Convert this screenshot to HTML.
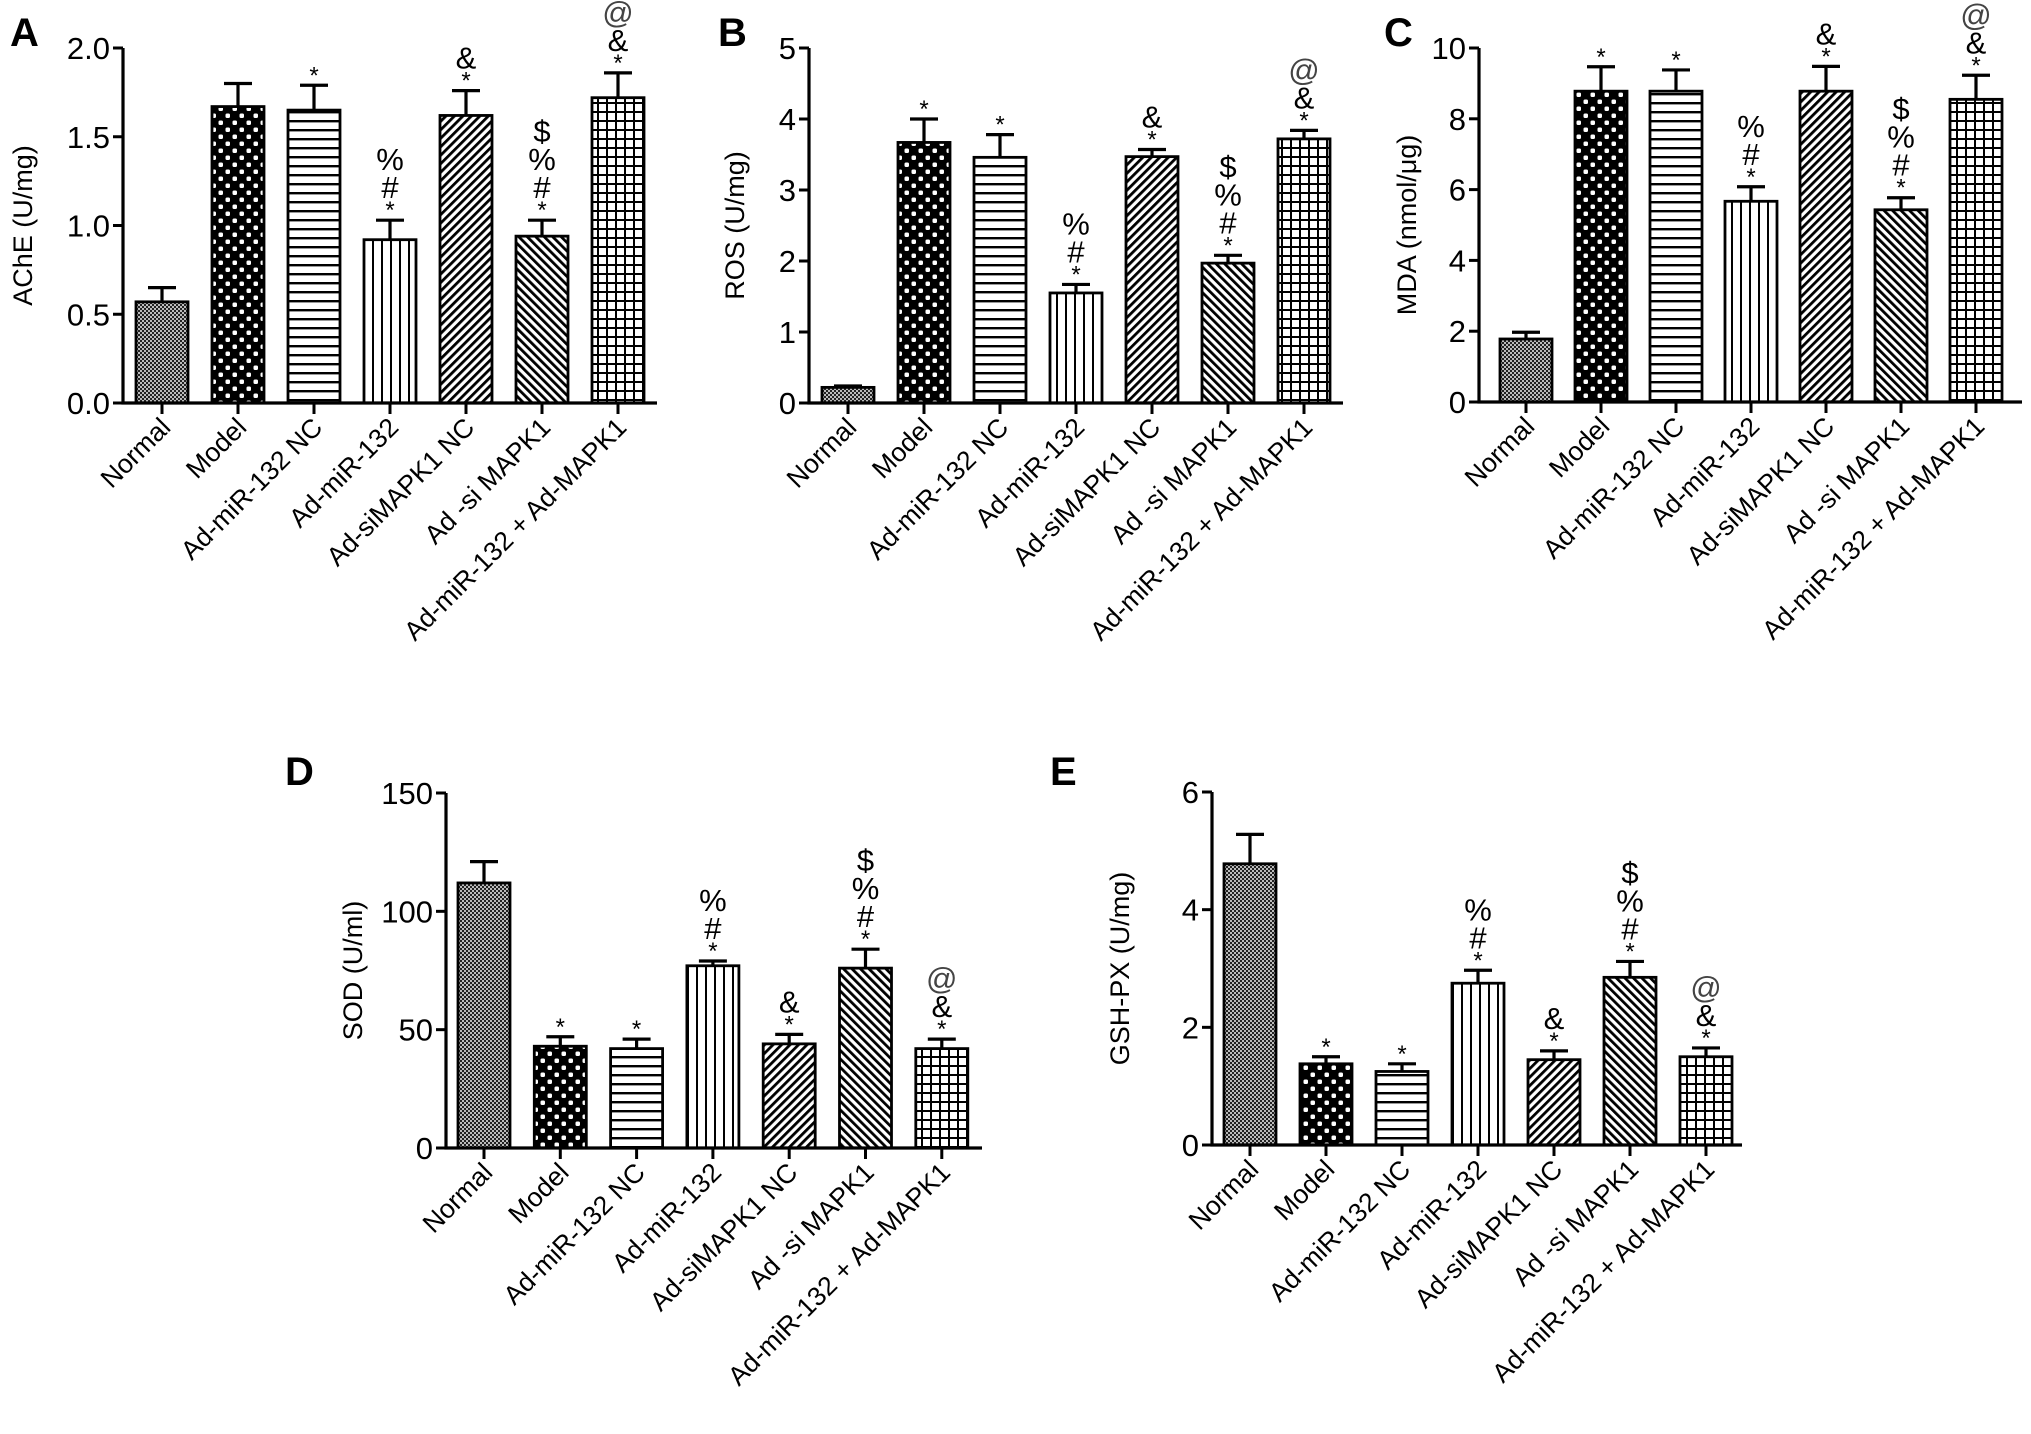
<!DOCTYPE html>
<html><head><meta charset="utf-8"><style>
html,body{margin:0;padding:0;background:#fff;}
svg{display:block;font-family:"Liberation Sans",Arial,sans-serif;}
</style></head><body>
<svg id="fig" width="2031" height="1434" viewBox="0 0 2031 1434" xmlns="http://www.w3.org/2000/svg">
<defs>
<pattern id="p0" width="4" height="4" patternUnits="userSpaceOnUse"><rect width="4" height="4" fill="#bbb"/><rect width="2" height="2" fill="#222"/><rect x="2" y="2" width="2" height="2" fill="#222"/></pattern>
<pattern id="p1" width="14" height="14" patternUnits="userSpaceOnUse"><rect width="14" height="14" fill="#000"/><rect x="1.5" y="1.5" width="4.5" height="4.5" rx="1.5" fill="#fff"/><rect x="8.5" y="8.5" width="4.5" height="4.5" rx="1.5" fill="#fff"/></pattern>
<pattern id="p2" width="10" height="9" patternUnits="userSpaceOnUse"><rect width="10" height="9" fill="#fff"/><rect y="3" width="10" height="2.4" fill="#000"/></pattern>
<pattern id="p3" width="9" height="10" patternUnits="userSpaceOnUse"><rect width="9" height="10" fill="#fff"/><rect x="3" width="2" height="10" fill="#000"/></pattern>
<pattern id="p4" width="6" height="6" patternUnits="userSpaceOnUse" patternTransform="rotate(45)"><rect width="6" height="6" fill="#fff"/><rect width="2.8" height="6" fill="#000"/></pattern>
<pattern id="p5" width="6" height="6" patternUnits="userSpaceOnUse" patternTransform="rotate(-45)"><rect width="6" height="6" fill="#fff"/><rect width="2.8" height="6" fill="#000"/></pattern>
<pattern id="p6" width="9" height="9" patternUnits="userSpaceOnUse"><rect width="9" height="9" fill="#fff"/><rect x="3" width="2" height="9" fill="#000"/><rect y="3" width="9" height="2" fill="#000"/></pattern>
</defs>
</svg>
<script>
const categories = ["Normal","Model","Ad-miR-132 NC","Ad-miR-132","Ad-siMAPK1 NC","Ad -si MAPK1","Ad-miR-132 + Ad-MAPK1"];
const aValues = [0.57,1.67,1.65,0.92,1.62,0.94,1.72];
const aErr = [0.65,1.80,1.79,1.03,1.76,1.03,1.86];
const aTicks = ["0.0","0.5","1.0","1.5","2.0"];
const bValues = [0.22,3.67,3.46,1.55,3.47,1.97,3.72];
const bErr = [0.24,4.00,3.78,1.67,3.57,2.08,3.84];
const bTicks = ["0","1","2","3","4","5"];
const cValues = [1.78,8.78,8.78,5.67,8.78,5.43,8.55];
const cErr = [1.97,9.47,9.38,6.08,9.48,5.77,9.23];
const cTicks = ["0","2","4","6","8","10"];
const dValues = [112,43,42,77,44,76,42];
const dErr = [121,47,46,79,48,84,46];
const dTicks = ["0","50","100","150"];
const eValues = [4.78,1.38,1.25,2.75,1.45,2.85,1.50];
const eErr = [5.28,1.50,1.38,2.97,1.60,3.12,1.65];
const eTicks = ["0","2","4","6"];
const marksA = ["","","*","*#%","*&","*#%$","*&@"];
const marksStd = ["","*","*","*#%","*&","*#%$","*&@"];

const NS="http://www.w3.org/2000/svg";
const svg=document.getElementById('fig');
function mk(tag,attrs,parent){const e=document.createElementNS(NS,tag);for(const k in attrs)e.setAttribute(k,attrs[k]);(parent||svg).appendChild(e);return e;}

function panel(cfg){
  const g=mk('g',{});
  
  
  const maxV=parseFloat(cfg.ticks[cfg.ticks.length-1]);
  const y=v=>cfg.y0-(v/maxV)*(cfg.y0-cfg.yTop);
  const x=i=>cfg.c0+i*cfg.step;
  const L=mk('text',{x:cfg.lx,y:cfg.ly,'font-size':40,'font-weight':'bold'},g);L.textContent=cfg.letter;
  
  
  cfg.values.forEach((v,i)=>{
    const cx=x(i),w=52;
    const eb=mk('path',{d:`M${cx} ${y(v)} V${y(cfg.err[i])} M${cx-14} ${y(cfg.err[i])} H${cx+14}`,stroke:'#000','stroke-width':3.2,fill:'none'},g);
    
    
    const r=mk('rect',{x:cx-w/2,y:y(v),width:w,height:cfg.y0-y(v),fill:`url(#p${i})`,stroke:'#000','stroke-width':2.8},g);
    
    
    const m=cfg.marks[i];let yy=y(cfg.err[i])-6;
    for(const ch of m){
      const isStar=ch==='*';
      const t=mk('text',{x:cx,y:yy+(isStar?4:0),'text-anchor':'middle','font-size':isStar?24:31,fill:ch==='@'?'#444':'#000'},g);
      t.textContent=ch;
      
      
      yy-= isStar?16:28;
    }
    const tk=mk('line',{x1:cx,x2:cx,y1:cfg.y0,y2:cfg.y0+11,stroke:'#000','stroke-width':3},g);
    
    
    const lb=mk('text',{'text-anchor':'end','font-size':26.5,transform:`translate(${cx+10},${cfg.y0+26}) rotate(-45)`},g);
    lb.textContent=categories[i];
    
    
  });
  const ax=mk('path',{d:`M${cfg.ax} ${cfg.yTop} V${cfg.y0} H${cfg.xEnd}`,stroke:'#000','stroke-width':3.2,fill:'none'},g);
  
  
  cfg.ticks.forEach(t=>{
    const yy=y(parseFloat(t));
    const l=mk('line',{x1:cfg.ax-10,x2:cfg.ax,y1:yy,y2:yy,stroke:'#000','stroke-width':3},g);
    
    
    const tt=mk('text',{x:cfg.ax-13,y:yy+11,'text-anchor':'end','font-size':31},g);
    tt.textContent=t;
    
    
  });
  const yt=mk('text',{'text-anchor':'middle','font-size':27,transform:`translate(${cfg.tx},${(cfg.yTop+cfg.y0)/2}) rotate(-90)`},g);
  yt.textContent=cfg.title;
  
  
}
panel({letter:'A',lx:10,ly:46,ax:123,yTop:48,y0:403,xEnd:657,c0:162,step:76,values:aValues,err:aErr,ticks:aTicks,marks:marksA,title:'AChE (U/mg)',tx:32});
panel({letter:'B',lx:718,ly:46,ax:809,yTop:48,y0:403,xEnd:1343,c0:848,step:76,values:bValues,err:bErr,ticks:bTicks,marks:marksStd,title:'ROS (U/mg)',tx:744});
panel({letter:'C',lx:1384,ly:46,ax:1479,yTop:48,y0:402,xEnd:2022,c0:1526,step:75,values:cValues,err:cErr,ticks:cTicks,marks:marksStd,title:'MDA (nmol/μg)',tx:1416});
panel({letter:'D',lx:285,ly:785,ax:446,yTop:793,y0:1148,xEnd:982,c0:484,step:76.3,values:dValues,err:dErr,ticks:dTicks,marks:marksStd,title:'SOD (U/ml)',tx:362});
panel({letter:'E',lx:1050,ly:785,ax:1212,yTop:792,y0:1145,xEnd:1742,c0:1250,step:76,values:eValues,err:eErr,ticks:eTicks,marks:marksStd,title:'GSH-PX (U/mg)',tx:1129});
</script>
</body></html>
